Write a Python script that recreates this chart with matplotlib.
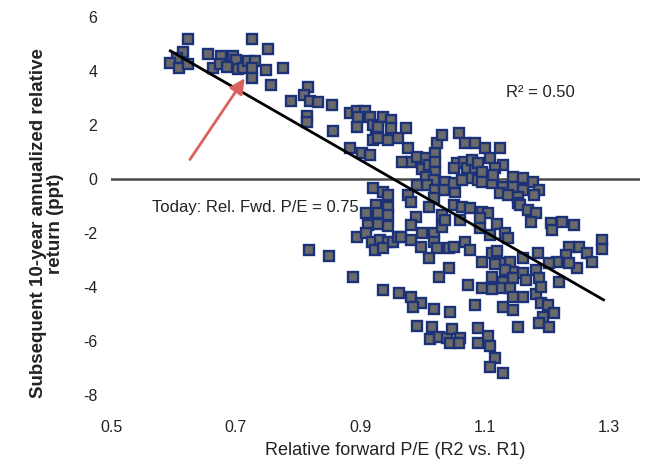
import matplotlib
matplotlib.use("Agg")
import matplotlib.pyplot as plt

plt.rcParams['font.family'] = ['Liberation Sans', 'DejaVu Sans']
plt.rcParams['axes.unicode_minus'] = False

# --- DATA ---
# relative forward P/E (R2 vs R1)
rel_pe = [
    0.624, 0.616, 0.606, 0.595, 0.609, 0.624, 0.656, 0.677, 0.695, 0.701,
    0.664, 0.675, 0.686, 0.703, 0.712, 0.727, 0.752, 0.720, 0.731, 0.727,
    0.748, 0.727, 0.756, 0.776, 0.789,
    0.817, 0.809, 0.820, 0.833, 0.854, 0.815, 0.815, 0.857, 0.883, 0.895,
    0.907, 0.897, 0.895, 0.916, 0.921, 0.926, 0.921, 0.884, 0.903, 0.916,
    0.921,
    0.936, 0.950, 0.929, 0.949, 0.973, 0.929, 0.945, 0.960, 0.977, 0.981,
    0.968, 0.992, 1.005, 1.000, 1.010, 1.021, 1.024, 1.032, 1.021, 1.021,
    1.005, 1.018, 1.008, 0.992, 0.977, 1.021, 1.037, 1.034, 1.053, 1.050,
    1.058, 1.069, 1.085, 1.056, 1.050, 1.067, 1.072, 1.085, 1.080, 1.090,
    1.077, 1.064, 1.090, 0.937, 0.944, 1.018,
    1.101, 1.125, 1.108, 1.129, 1.117, 1.096, 1.096, 1.112, 1.114, 1.146,
    1.162, 1.177, 1.130, 1.146, 1.162, 1.187, 1.125, 1.138, 1.179, 1.153,
    1.153, 1.157, 1.169, 1.182, 1.096, 1.106,
    0.926, 0.944, 0.910, 0.928, 0.945, 0.913, 0.929, 0.944, 0.895, 0.910,
    0.919, 0.932, 0.944, 0.924, 0.937, 0.953, 0.961, 0.818, 0.850, 0.889,
    0.981, 1.010, 1.032, 1.050, 1.064, 1.077, 0.989, 0.981, 1.000, 1.018,
    1.032, 1.037, 0.965, 0.981, 0.997, 1.018, 1.024, 1.042, 1.050, 1.010,
    1.069, 1.077, 1.042, 1.026, 1.074, 1.061, 1.093, 1.093, 1.109, 1.120,
    1.132, 1.138,
    1.174, 1.206, 1.209, 1.225, 1.243, 1.289, 1.289, 1.251, 1.235, 1.230,
    1.265, 1.273, 1.249, 1.235, 1.217, 1.203, 1.185, 1.161, 1.141, 1.125,
    1.145, 1.162, 1.182, 1.187, 1.133, 1.129, 1.146, 1.166, 1.141, 1.162,
    1.182, 1.190, 1.219, 1.125, 1.130, 1.145, 1.190, 1.201, 1.211, 1.194,
    1.187, 1.203, 1.154, 1.145,
    1.096, 1.112, 1.120, 1.116, 1.112, 1.096, 1.112, 1.085,
    0.937, 0.963, 0.981, 0.997, 0.985, 1.018, 1.045, 0.992, 1.016, 1.013,
    1.026, 1.040, 1.048, 1.061, 1.045, 1.058, 1.090, 1.106, 1.090, 1.109,
    1.117, 1.109, 1.129,
]
# subsequent 10-year annualized relative return (ppt)
sub_return = [
    5.19, 4.70, 4.48, 4.30, 4.11, 4.26, 4.63, 4.56, 4.56, 4.41,
    4.11, 4.26, 4.15, 4.07, 4.11, 5.19, 4.81, 4.37, 4.37, 4.11,
    4.04, 3.74, 3.48, 4.11, 2.89,
    3.41, 3.11, 2.89, 2.85, 2.74, 2.33, 2.11, 1.78, 2.44, 2.52,
    2.52, 2.30, 1.93, 2.30, 2.00, 1.63, 1.44, 1.15, 0.96, 0.89,
    -0.33,
    2.30, 2.19, 1.93, 1.89, 1.89, 1.52, 1.44, 1.52, 1.15, 0.63,
    0.63, 0.81, 0.78, 0.37, 0.52, 0.96, 1.33, 1.63, 0.63, 0.26,
    0.07, -0.04, -0.22, -0.22, -0.59, -0.41, -0.11, -0.41, -0.48, -0.15,
    1.70, 1.33, 1.33, 0.59, 0.41, 0.63, 0.41, 0.41, 0.70, 0.59,
    0.04, -0.04, -0.04, -0.48, -0.59, -0.70,
    1.15, 1.15, 0.78, 0.52, 0.41, 0.26, -0.11, -0.15, 0.15, 0.07,
    0.04, -0.11, -0.30, -0.30, -0.41, -0.41, -0.52, -0.59, -0.59, -0.67,
    -0.89, -0.96, -1.15, -1.26, -1.22, -1.26,
    -0.96, -1.04, -1.26, -1.26, -1.33, -1.70, -1.67, -1.74, -2.15, -2.00,
    -2.33, -2.26, -2.33, -2.63, -2.56, -2.33, -2.15, -2.63, -2.85, -3.63,
    -0.85, -1.04, -1.33, -0.96, -1.04, -1.07, -1.41, -1.70, -2.00, -2.00,
    -1.78, -1.52, -2.15, -2.26, -2.52, -2.33, -2.56, -2.56, -2.52, -2.93,
    -2.33, -2.63, -3.30, -3.63, -3.93, -1.52, -1.44, -1.81, -2.07, -1.67,
    -2.00, -2.19,
    -1.59, -1.63, -1.89, -1.59, -1.70, -2.26, -2.59, -2.52, -2.52, -2.81,
    -2.74, -3.07, -3.30, -3.11, -3.07, -3.11, -2.74, -2.93, -3.07, -3.11,
    -3.44, -3.48, -3.37, -3.67, -3.37, -3.81, -3.67, -3.74, -4.04, -4.37,
    -4.26, -4.00, -3.81, -4.04, -4.74, -4.85, -4.59, -4.67, -4.96, -5.11,
    -5.33, -5.48, -5.48, -4.37,
    -3.07, -2.74, -2.67, -3.15, -3.63, -4.04, -4.07, -4.67,
    -4.11, -4.22, -4.37, -4.59, -4.74, -4.81, -4.93, -5.44, -5.48, -5.93,
    -5.85, -5.89, -5.56, -5.89, -6.07, -6.07, -5.52, -5.81, -6.07, -6.19,
    -6.63, -6.96, -7.19,
]

# regression line end points and annotations
fit_x = [0.595, 1.291]
fit_y = [4.74, -4.48]
r2_text = "R\u00b2 = 0.50"
today_text = "Today: Rel. Fwd. P/E = 0.75"
arrow_tail = (0.624, 0.63)
arrow_head = (0.717, 3.81)

x_ticks = [0.5, 0.7, 0.9, 1.1, 1.3]
y_ticks = [-8, -6, -4, -2, 0, 2, 4, 6]

# --- PLOT ---
fig = plt.figure(figsize=(6.54, 4.67), dpi=100)
ax = fig.add_axes([0.170, 0.137, 0.809, 0.827])

ax.axhline(0, color='#4a4a4a', lw=1.8, zorder=1)
ax.plot(rel_pe, sub_return, ls='none', marker='s', ms=6.7,
        mfc='#6a6a6a', mec='#1c3278', mew=1.7, zorder=2)
ax.plot(fit_x, fit_y, color='black', lw=2.0, zorder=3)

ax.annotate("", xy=arrow_head, xytext=arrow_tail,
            arrowprops=dict(arrowstyle='-|>,head_length=0.9,head_width=0.45',
                            color='#d9625e', lw=2.0), zorder=4)
ax.text(0.566, -1.07, today_text, fontsize=12, color='#222222', va='center')
ax.text(1.135, 3.19, r2_text, fontsize=12, color='#222222', va='center')

ax.set_xlim(0.5, 1.35)
ax.set_ylim(-8.3, 6.0)
ax.set_xticks(x_ticks)
ax.set_xticklabels([f"{v:.1f}" for v in x_ticks])
ax.set_yticks(y_ticks)
ax.set_yticklabels([str(v) for v in y_ticks])
ax.tick_params(length=0, labelsize=11.5, colors='#222222')
ax.tick_params(axis='x', pad=12)
ax.tick_params(axis='y', pad=10)
for s in ax.spines.values():
    s.set_visible(False)

ax.set_xlabel("Relative forward P/E (R2 vs. R1)", fontsize=13, color='#222222')
ax.xaxis.set_label_coords(0.537, -0.10)
ax.set_ylabel("Subsequent 10-year annualized relative\nreturn (ppt)",
              fontsize=13.5, fontweight='bold', color='#222222', linespacing=1.0)
ax.yaxis.set_label_coords(-0.09, 0.465)

fig.savefig("out.png", dpi=100)
